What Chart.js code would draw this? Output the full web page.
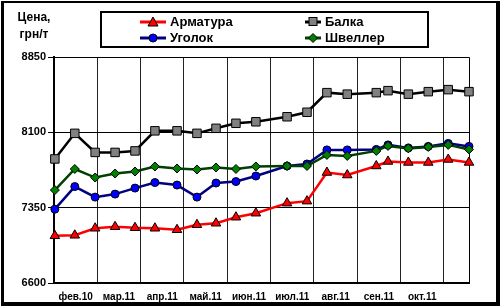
<!DOCTYPE html>
<html>
<head>
<meta charset="utf-8">
<script src="https://cdn.jsdelivr.net/npm/chart.js@4"></script>
<style>
  html, body { margin: 0; padding: 0; background: #fff; }
  body { width: 500px; height: 308px; position: relative; overflow: hidden; font-family: "Liberation Sans", Arial, sans-serif; }
  #frame { position: absolute; left: 1px; top: 1px; width: 492px; height: 299px; border-left: 3px solid #000; border-top: 2px solid #000; border-right: 4px solid #000; border-bottom: 4px solid #000; }
  #chart { position: absolute; left: 0; top: 0; }
  #ytitle { position: absolute; left: 10px; top: 9px; width: 48px; text-align: center; font-weight: bold; font-size: 12px; line-height: 17px; }
  #legend { position: absolute; left: 100px; top: 11px; width: 325px; height: 33px; border: 2px solid #000; background: #fff; }
  .item { position: absolute; font-weight: bold; font-size: 13px; line-height: 16px; display: flex; align-items: center; }
  .item svg { margin-right: 4px; }
</style>
</head>
<body>
<div id="frame"></div>
<canvas id="chart" width="500" height="308"></canvas>
<div id="ytitle">Цена,<br>грн/т</div>
<div id="legend"></div>
<script>
// posizione dei punti sull'asse x, in mesi dall'inizio (dati ogni ~2 settimane)
var mesi_x = [0.02, 0.48, 0.95, 1.41, 1.87, 2.33, 2.84, 3.30, 3.74, 4.20, 4.66, 5.38, 5.84, 6.30, 6.77, 7.44, 7.71, 8.18, 8.64, 9.10, 9.58];
// etichette dei mesi (centrate tra le linee della griglia)
var etichette_mesi = ['фев.10', 'мар.11', 'апр.11', 'май.11', 'июн.11', 'июл.11', 'авг.11', 'сен.11', 'окт.11'];
var tick_y = [6600, 7350, 8100, 8850];

var armatura = [7070, 7075, 7145, 7160, 7150, 7145, 7130, 7180, 7195, 7255, 7295, 7395, 7415, 7700, 7675, 7765, 7810, 7800, 7800, 7830, 7800];
var balka    = [7835, 8090, 7900, 7900, 7915, 8115, 8115, 8090, 8140, 8190, 8205, 8255, 8300, 8495, 8480, 8495, 8515, 8480, 8505, 8525, 8505];
var ugolok   = [7335, 7560, 7455, 7485, 7545, 7600, 7575, 7455, 7595, 7610, 7665, 7765, 7785, 7925, 7925, 7930, 7975, 7945, 7960, 7990, 7960];
var shveller = [7525, 7735, 7650, 7690, 7710, 7760, 7740, 7730, 7750, 7735, 7760, 7765, 7765, 7875, 7865, 7915, 7965, 7940, 7955, 7975, 7930];

// unisce x e y in punti per la scala lineare
function punti(valori) {
  var out = [];
  for (var i = 0; i < valori.length; i++) {
    out.push({ x: mesi_x[i], y: valori[i] });
  }
  return out;
}

var serie = [
  { label: 'Арматура', data: armatura, line: '#ff0000', fill: '#ff0000', style: 'triangle', radius: 5.5, order: 3, col: 0, row: 0 },
  { label: 'Балка', data: balka, line: '#000000', fill: '#808080', style: 'rect', radius: 6, order: 2, col: 1, row: 0 },
  { label: 'Уголок', data: ugolok, line: '#000080', fill: '#0000ff', style: 'circle', radius: 4, order: 1, col: 0, row: 1 },
  { label: 'Швеллер', data: shveller, line: '#004000', fill: '#008000', style: 'rectRot', radius: 4.5, order: 0, col: 1, row: 1 }
];

var datasets = serie.map(function(s) {
  return {
    label: s.label,
    data: punti(s.data),
    borderColor: s.line,
    borderWidth: 2.5,
    pointStyle: s.style,
    pointRadius: s.radius,
    pointBackgroundColor: s.fill,
    pointBorderColor: '#000',
    pointBorderWidth: 1,
    order: s.order,
    clip: false,
    tension: 0
  };
});

// legenda in html, due colonne
var legenda = document.getElementById('legend');
serie.forEach(function(s) {
  var marker = '';
  if (s.style === 'triangle') marker = '<polygon points="13,1 18,10 8,10" fill="' + s.fill + '" stroke="#000" stroke-width="1"/>';
  if (s.style === 'rect') marker = '<rect x="9" y="1.5" width="8" height="8" fill="' + s.fill + '" stroke="#000" stroke-width="1"/>';
  if (s.style === 'circle') marker = '<circle cx="13" cy="6" r="4" fill="' + s.fill + '" stroke="#000" stroke-width="1"/>';
  if (s.style === 'rectRot') marker = '<polygon points="13,1.5 17.5,6 13,10.5 8.5,6" fill="' + s.fill + '" stroke="#000" stroke-width="1"/>';
  var w = s.col === 0 ? 26 : 16;
  var svg = '<svg width="' + w + '" height="12" viewBox="' + (s.col === 0 ? '0' : '5') + ' 0 ' + w + ' 12">' +
    '<line x1="0" y1="6" x2="26" y2="6" stroke="' + s.line + '" stroke-width="3"/>' + marker + '</svg>';
  var div = document.createElement('div');
  div.className = 'item';
  div.style.left = (s.col === 0 ? 38 : 203) + 'px';
  div.style.top = (s.row === 0 ? 1 : 17) + 'px';
  div.innerHTML = svg + '<span>' + s.label + '</span>';
  legenda.appendChild(div);
});

// bordo dell'area del grafico
var bordo = {
  id: 'bordo',
  beforeDatasetsDraw: function(chart) {
    var a = chart.chartArea, ctx = chart.ctx;
    ctx.save();
    ctx.strokeStyle = '#000';
    ctx.lineWidth = 1;
    ctx.beginPath();
    ctx.moveTo(a.left, a.top + 0.5);
    ctx.lineTo(a.right + 0.5, a.top + 0.5);
    ctx.lineTo(a.right + 0.5, a.bottom);
    ctx.stroke();
    ctx.restore();
  }
};

var font_assi = { family: '"Liberation Sans", Arial, sans-serif', size: 11, weight: 'bold' };

new Chart(document.getElementById('chart').getContext('2d'), {
  type: 'line',
  data: { datasets: datasets },
  plugins: [bordo],
  options: {
    responsive: false,
    animation: false,
    layout: { padding: { left: 0, right: 31, top: 57, bottom: 0 } },
    plugins: { legend: { display: false }, tooltip: { enabled: false } },
    scales: {
      x: {
        type: 'linear',
        min: 0,
        max: 9.58,
        afterBuildTicks: function(scale) {
          var t = [];
          for (var v = 0; v <= 9.5; v += 0.5) t.push({ value: v });
          scale.ticks = t;
        },
        afterFit: function(scale) { scale.height = 25; },
        grid: {
          color: function(ctx) {
            return ctx.tick && ctx.tick.value % 1 === 0 ? '#222' : 'rgba(0,0,0,0)';
          },
          lineWidth: 1,
          drawTicks: false
        },
        border: { color: '#000', width: 2 },
        ticks: {
          autoSkip: false,
          maxRotation: 0,
          padding: 8,
          color: '#000',
          font: { family: '"Liberation Sans", Arial, sans-serif', size: 10, weight: 'bold' },
          callback: function(v) {
            var i = v - 0.5;
            if (i % 1 === 0 && i >= 0 && i < etichette_mesi.length) return etichette_mesi[i];
            return '';
          }
        }
      },
      y: {
        min: tick_y[0],
        max: tick_y[tick_y.length - 1],
        afterBuildTicks: function(scale) {
          scale.ticks = tick_y.map(function(v) { return { value: v }; });
        },
        afterFit: function(scale) { scale.width = 54; },
        grid: { color: '#000', lineWidth: 1, tickLength: 6, tickColor: '#000' },
        border: { color: '#000', width: 2 },
        ticks: {
          color: '#000',
          font: font_assi,
          padding: 2,
          callback: function(v) { return String(v); }
        }
      }
    }
  }
});
</script>
</body>
</html>
